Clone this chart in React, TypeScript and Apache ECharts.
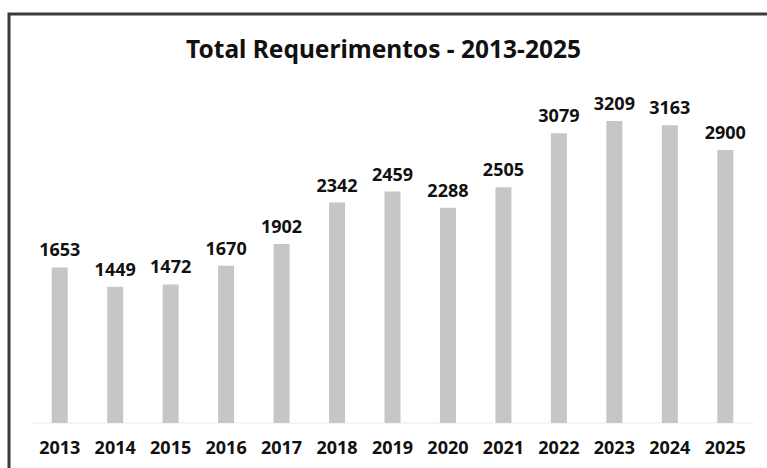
import React, { useEffect, useRef } from "react";
import * as echarts from "echarts";

const titleText = "Total Requerimentos - 2013-2025";
const years = ["2013", "2014", "2015", "2016", "2017", "2018", "2019", "2020", "2021", "2022", "2023", "2024", "2025"];
const totals = [1653, 1449, 1472, 1670, 1902, 2342, 2459, 2288, 2505, 3079, 3209, 3163, 2900];

const FONT = "'Noto Sans', 'Open Sans', sans-serif";

export default function App() {
  const ref = useRef<HTMLDivElement>(null);
  useEffect(() => {
    document.body.style.margin = "0";
    const chart = echarts.init(ref.current!, null, { renderer: "svg" });
    chart.setOption({
      animation: false,
      backgroundColor: "#ffffff",
      title: {
        text: titleText,
        left: "center",
        top: 31,
        textStyle: { fontFamily: FONT, fontWeight: "bold", fontSize: 24.5, color: "#111" },
      },
      graphic: [
        {
          type: "polyline",
          shape: { points: [[9, 480], [9, 14], [780, 14]] },
          style: { stroke: "#3a3a3a", lineWidth: 3, fill: "none" },
          z: 10,
        },
      ],
      grid: { left: 32, right: 14, top: 93.6, bottom: 45, containLabel: false },
      xAxis: {
        type: "category",
        data: years,
        axisLine: { show: true, lineStyle: { color: "#f5f5f5", width: 2 } },
        axisTick: { show: false },
        axisLabel: { margin: 15, fontFamily: FONT, fontWeight: "bold", fontSize: 18, color: "#111" },
      },
      yAxis: {
        type: "value",
        min: 0,
        max: 3500,
        show: false,
        splitLine: { show: false },
      },
      series: [
        {
          type: "bar",
          data: totals,
          barWidth: 16,
          itemStyle: { color: "#c6c6c6" },
          label: {
            show: true,
            position: "top",
            distance: 9,
            fontFamily: FONT,
            fontWeight: "bold",
            fontSize: 18,
            color: "#111",
          },
        },
      ],
    });
    return () => chart.dispose();
  }, []);
  return <div ref={ref} style={{ width: 767, height: 468 }} />;
}
